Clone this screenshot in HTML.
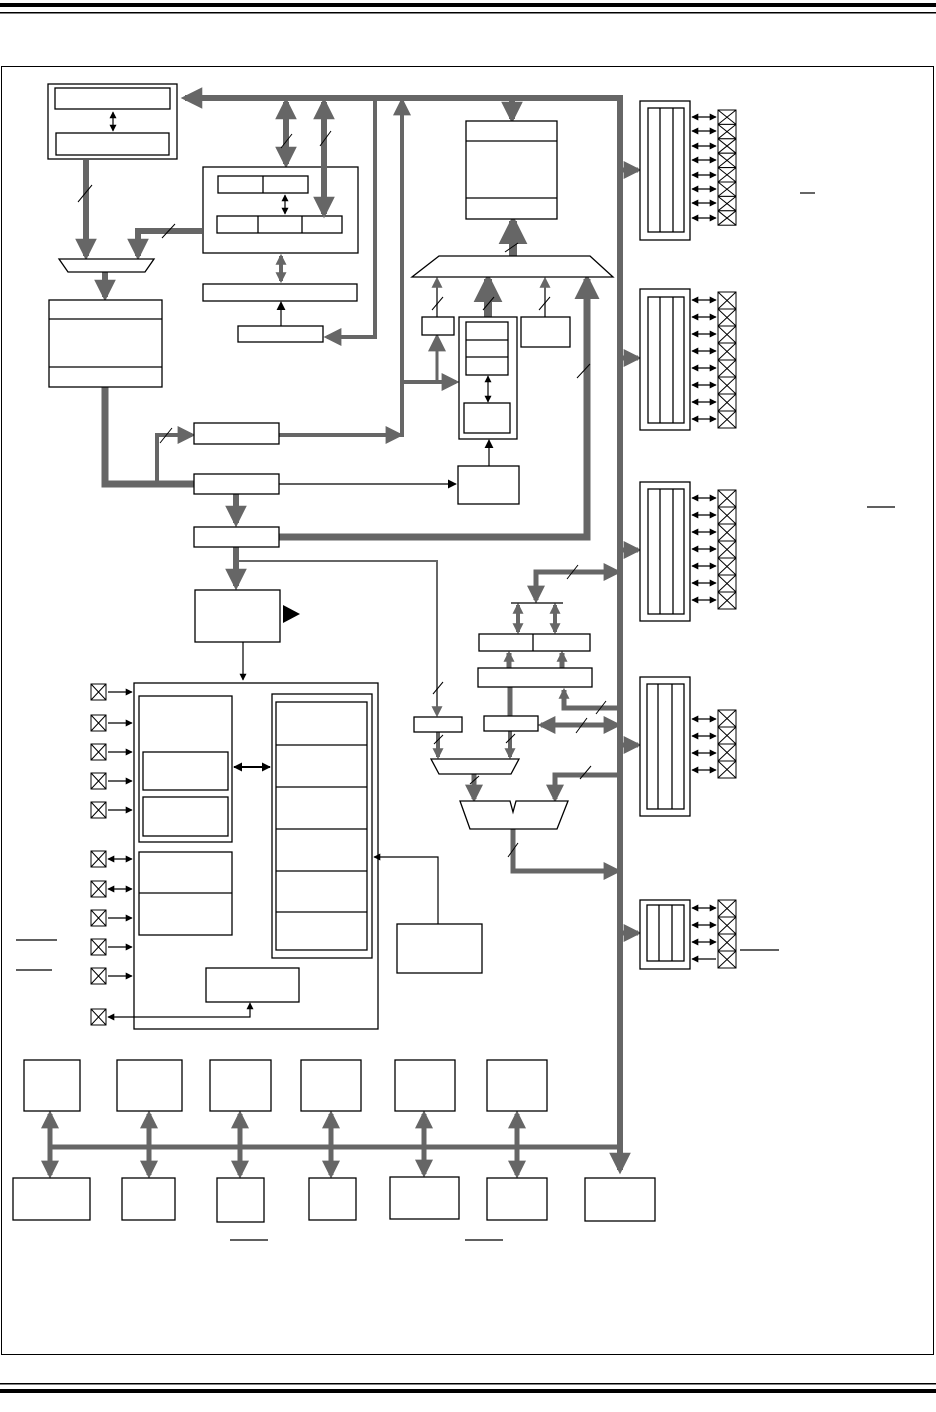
<!DOCTYPE html>
<html><head><meta charset="utf-8"><style>html,body{margin:0;padding:0;background:#fff}svg{display:block}</style></head>
<body>
<svg width="936" height="1412" viewBox="0 0 936 1412" xmlns="http://www.w3.org/2000/svg">
<defs>
<marker id="a" viewBox="0 0 10 10" refX="8" refY="5" markerWidth="3.6" markerHeight="3.6" orient="auto-start-reverse"><path d="M0,0L10,5L0,10z" fill="#666"/></marker>
<marker id="s" viewBox="0 0 10 10" refX="8" refY="5" markerWidth="18" markerHeight="18" markerUnits="userSpaceOnUse" orient="auto-start-reverse"><path d="M0,0L10,5L0,10z" fill="#666"/></marker>
<marker id="t" viewBox="0 0 10 10" refX="8" refY="5" markerWidth="11" markerHeight="11" markerUnits="userSpaceOnUse" orient="auto-start-reverse"><path d="M0,0L10,5L0,10z" fill="#666"/></marker>
<marker id="k" viewBox="0 0 10 10" refX="9" refY="5" markerWidth="9" markerHeight="9" markerUnits="userSpaceOnUse" orient="auto-start-reverse"><path d="M0,0L10,5L0,10z" fill="#000"/></marker>
<marker id="k2" viewBox="0 0 10 10" refX="9" refY="5" markerWidth="7" markerHeight="7" markerUnits="userSpaceOnUse" orient="auto-start-reverse"><path d="M0,0L10,5L0,10z" fill="#000"/></marker>
<g id="xa" fill="#fff" stroke="#000" stroke-width="1"><rect x="0" y="0" width="18" height="14.4"/><path d="M0,0L18,14.4M18,0L0,14.4"/></g>
<g id="xc" fill="#fff" stroke="#000" stroke-width="1"><rect x="0" y="0" width="18" height="17"/><path d="M0,0L18,17M18,0L0,17"/></g>
<g id="xp" fill="#fff" stroke="#000" stroke-width="1"><rect x="0" y="0" width="15" height="16"/><path d="M0,0L15,16M15,0L0,16"/></g>
</defs>
<rect x="0" y="3" width="936" height="4" fill="#000"/>
<rect x="0" y="12" width="936" height="1.5" fill="#000"/>
<rect x="0" y="1383" width="936" height="1.5" fill="#000"/>
<rect x="0" y="1389" width="936" height="4" fill="#000"/>
<rect x="1.5" y="66.5" width="932" height="1288" fill="none" stroke="#000" stroke-width="1"/>

<g fill="none" stroke="#666" stroke-width="6" stroke-linecap="butt">
<polyline points="620,1170 620,98 185,98" marker-end="url(#a)" marker-start="url(#a)"/>
<line x1="512" y1="98" x2="512" y2="119" marker-end="url(#a)"/>
<line x1="286" y1="102" x2="286" y2="164" marker-end="url(#a)" marker-start="url(#a)"/>
<line x1="281" y1="256" x2="281" y2="281" stroke-width="4" marker-end="url(#t)" marker-start="url(#t)"/>
<polyline points="375,98 375,337 327,337" stroke-width="4" marker-end="url(#s)"/>
<line x1="86" y1="160" x2="86" y2="256" marker-end="url(#a)"/>
<polyline points="202,231 138,231 138,256" marker-end="url(#a)"/>
<line x1="105" y1="272" x2="105" y2="297" marker-end="url(#a)"/>
<polyline points="105,387 105,484 194,484" stroke-width="7"/>
<polyline points="157,484 157,435 192,435" stroke-width="4" marker-end="url(#s)"/>
<polyline points="279,435 400,435" stroke-width="4" marker-end="url(#s)"/>
<line x1="402" y1="437" x2="402" y2="101" stroke-width="4" marker-end="url(#s)"/>
<line x1="402" y1="382" x2="456" y2="382" stroke-width="4" marker-end="url(#s)"/>
<line x1="437" y1="382" x2="437" y2="337" stroke-width="3" marker-end="url(#s)"/>
<line x1="437" y1="317" x2="437" y2="279" stroke-width="2" marker-end="url(#t)"/>
<line x1="488" y1="317" x2="488" y2="279" stroke-width="8" marker-end="url(#a)"/>
<line x1="545" y1="317" x2="545" y2="279" stroke-width="2" marker-end="url(#t)"/>
<polyline points="279,537 587,537 587,279" stroke-width="7" marker-end="url(#a)"/>
<line x1="513" y1="256" x2="513" y2="221" stroke-width="8" marker-end="url(#a)"/>
<line x1="236" y1="494" x2="236" y2="523" marker-end="url(#a)"/>
<line x1="236" y1="547" x2="236" y2="586" marker-end="url(#a)"/>
<polyline points="236,561 437,561 437,715" stroke-width="2" marker-end="url(#t)"/>
<line x1="438" y1="732" x2="438" y2="757" stroke-width="4" marker-end="url(#t)"/>
<line x1="510" y1="731" x2="510" y2="757" stroke-width="4" marker-end="url(#t)"/>
<line x1="474" y1="774" x2="474" y2="799" stroke-width="5" marker-end="url(#s)"/>
<polyline points="620,775 555,775 555,799" stroke-width="5" marker-end="url(#s)"/>
<polyline points="513,829 513,871 618,871" stroke-width="5" marker-end="url(#s)"/>
<line x1="510" y1="716" x2="510" y2="670" stroke-width="5" marker-end="url(#t)"/>
<polyline points="620,708 564,708 564,690" stroke-width="5" marker-end="url(#t)"/>
<line x1="541" y1="725" x2="618" y2="725" stroke-width="5" marker-end="url(#s)" marker-start="url(#s)"/>
<line x1="509" y1="668" x2="509" y2="653" stroke-width="5" marker-end="url(#t)"/>
<line x1="562" y1="668" x2="562" y2="653" stroke-width="5" marker-end="url(#t)"/>
<line x1="518" y1="605" x2="518" y2="632" stroke-width="4" marker-end="url(#t)" marker-start="url(#t)"/>
<line x1="555" y1="605" x2="555" y2="632" stroke-width="4" marker-end="url(#t)" marker-start="url(#t)"/>
<polyline points="618,572 536,572 536,600" stroke-width="5" marker-end="url(#s)" marker-start="url(#s)"/>
<line x1="620" y1="170" x2="638" y2="170" stroke-width="5" marker-end="url(#s)"/>
<line x1="620" y1="358" x2="638" y2="358" stroke-width="5" marker-end="url(#s)"/>
<line x1="620" y1="550" x2="638" y2="550" stroke-width="5" marker-end="url(#s)"/>
<line x1="620" y1="745" x2="638" y2="745" stroke-width="5" marker-end="url(#s)"/>
<line x1="620" y1="933" x2="638" y2="933" stroke-width="5" marker-end="url(#s)"/>
<line x1="51" y1="1147" x2="620" y2="1147" stroke-width="5"/>
<g stroke-width="5">
<line x1="50" y1="1114" x2="50" y2="1175" marker-end="url(#s)" marker-start="url(#s)"/>
<line x1="149" y1="1114" x2="149" y2="1175" marker-end="url(#s)" marker-start="url(#s)"/>
<line x1="240" y1="1114" x2="240" y2="1175" marker-end="url(#s)" marker-start="url(#s)"/>
<line x1="331" y1="1114" x2="331" y2="1175" marker-end="url(#s)" marker-start="url(#s)"/>
<line x1="424" y1="1114" x2="424" y2="1174" marker-end="url(#s)" marker-start="url(#s)"/>
<line x1="517" y1="1114" x2="517" y2="1175" marker-end="url(#s)" marker-start="url(#s)"/>
</g>
</g>

<g fill="#fff" stroke="#000" stroke-width="1.3">
<rect x="48" y="84" width="129" height="75"/>
<rect x="55" y="88" width="115" height="21"/>
<rect x="56" y="133" width="113" height="22"/>
<rect x="203" y="167" width="155" height="86"/>
<rect x="218" y="176" width="90" height="17"/><line x1="263" y1="176" x2="263" y2="193"/>
<rect x="217" y="216" width="125" height="17"/><line x1="258" y1="216" x2="258" y2="233"/><line x1="302" y1="216" x2="302" y2="233"/>
<rect x="203" y="284" width="154" height="17"/>
<rect x="238" y="326" width="85" height="16"/>
<path d="M59,259L154,259L145,272L68,272Z"/>
<rect x="49" y="300" width="113" height="87"/><line x1="49" y1="319" x2="162" y2="319"/><line x1="49" y1="367" x2="162" y2="367"/>
<rect x="466" y="121" width="91" height="98"/><line x1="466" y1="141" x2="557" y2="141"/><line x1="466" y1="198" x2="557" y2="198"/>
<path d="M439,256L590,256L613,277L412,277Z"/>
<rect x="422" y="317" width="32" height="18"/>
<rect x="459" y="317" width="58" height="122"/>
<rect x="466" y="322" width="42" height="53"/><line x1="466" y1="340" x2="508" y2="340"/><line x1="466" y1="357" x2="508" y2="357"/>
<rect x="464" y="403" width="46" height="30"/>
<rect x="521" y="317" width="49" height="30"/>
<rect x="194" y="423" width="85" height="21"/>
<rect x="194" y="474" width="85" height="20"/>
<rect x="194" y="527" width="85" height="20"/>
<rect x="458" y="466" width="61" height="38"/>
<rect x="195" y="590" width="85" height="52"/>
<rect x="414" y="717" width="48" height="15"/>
<rect x="484" y="716" width="54" height="15"/>
<path d="M431,759L519,759L511,774L439,774Z"/>
<path d="M460,801L510,801L513,812L516,801L568,801L557,829L470,829Z"/>
<rect x="478" y="668" width="114" height="19"/>
<rect x="479" y="634" width="111" height="17"/><line x1="533" y1="634" x2="533" y2="651"/>
<rect x="134" y="683" width="244" height="346"/>
<rect x="139" y="696" width="93" height="146"/>
<rect x="143" y="752" width="85" height="38"/>
<rect x="143" y="797" width="85" height="39"/>
<rect x="139" y="852" width="93" height="83"/><line x1="139" y1="893" x2="232" y2="893"/>
<rect x="272" y="694" width="100" height="264"/>
<rect x="276" y="702" width="91" height="248"/>
<line x1="276" y1="745" x2="367" y2="745"/><line x1="276" y1="787" x2="367" y2="787"/><line x1="276" y1="829" x2="367" y2="829"/><line x1="276" y1="871" x2="367" y2="871"/><line x1="276" y1="912" x2="367" y2="912"/>
<rect x="206" y="968" width="93" height="34"/>
<rect x="397" y="924" width="85" height="49"/>
<rect x="24" y="1060" width="56" height="51"/><rect x="117" y="1060" width="65" height="51"/><rect x="210" y="1060" width="61" height="51"/><rect x="301" y="1060" width="60" height="51"/><rect x="395" y="1060" width="60" height="51"/><rect x="487" y="1060" width="60" height="51"/>
<rect x="13" y="1178" width="77" height="42"/><rect x="122" y="1178" width="53" height="42"/><rect x="217" y="1178" width="47" height="44"/><rect x="309" y="1178" width="47" height="42"/><rect x="390" y="1177" width="69" height="42"/><rect x="487" y="1178" width="60" height="42"/><rect x="585" y="1178" width="70" height="43"/>
</g>
<line x1="324" y1="102" x2="324" y2="214" stroke="#666" stroke-width="6" marker-end="url(#a)" marker-start="url(#a)"/>
<g stroke="#000" stroke-width="1.2" fill="none">
<line x1="511" y1="603" x2="563" y2="603"/>
<line x1="113" y1="112" x2="113" y2="131" marker-end="url(#k2)" marker-start="url(#k2)"/>
<line x1="285" y1="195" x2="285" y2="214" marker-end="url(#k2)" marker-start="url(#k2)"/>
<line x1="281" y1="326" x2="281" y2="302" marker-end="url(#k)"/>
<line x1="488" y1="376" x2="488" y2="402" marker-end="url(#k2)" marker-start="url(#k2)"/>
<line x1="489" y1="466" x2="489" y2="440" marker-end="url(#k)"/>
<line x1="279" y1="484" x2="456" y2="484" marker-end="url(#k)"/>
<line x1="243" y1="642" x2="243" y2="680" marker-end="url(#k2)"/>
<line x1="234" y1="767" x2="270" y2="767" stroke-width="2" marker-end="url(#k)" marker-start="url(#k)"/>
<polyline points="438,924 438,857 374,857" marker-end="url(#k2)"/>
<polyline points="250,1003 250,1017 108,1017" marker-end="url(#k2)" marker-start="url(#k2)"/>
<line x1="16" y1="940" x2="57" y2="940"/><line x1="16" y1="970" x2="52" y2="970"/>
<line x1="800" y1="193" x2="815" y2="193"/><line x1="867" y1="507" x2="895" y2="507"/><line x1="740" y1="950" x2="779" y2="950"/>
<line x1="230" y1="1240" x2="268" y2="1240"/><line x1="465" y1="1240" x2="503" y2="1240"/>
<line x1="108" y1="692" x2="132" y2="692" marker-end="url(#k2)"/>
<line x1="108" y1="723" x2="132" y2="723" marker-end="url(#k2)"/>
<line x1="108" y1="752" x2="132" y2="752" marker-end="url(#k2)"/>
<line x1="108" y1="781" x2="132" y2="781" marker-end="url(#k2)"/>
<line x1="108" y1="810" x2="132" y2="810" marker-end="url(#k2)"/>
<line x1="108" y1="859" x2="132" y2="859" marker-end="url(#k2)" marker-start="url(#k2)"/>
<line x1="108" y1="889" x2="132" y2="889" marker-end="url(#k2)" marker-start="url(#k2)"/>
<line x1="108" y1="918" x2="132" y2="918" marker-end="url(#k2)"/>
<line x1="108" y1="947" x2="132" y2="947" marker-end="url(#k2)"/>
<line x1="108" y1="976" x2="132" y2="976" marker-end="url(#k2)"/>
<g marker-end="url(#k2)" marker-start="url(#k2)">
<line x1="692" y1="117" x2="716" y2="117"/><line x1="692" y1="131" x2="716" y2="131"/><line x1="692" y1="146" x2="716" y2="146"/><line x1="692" y1="160" x2="716" y2="160"/><line x1="692" y1="175" x2="716" y2="175"/><line x1="692" y1="189" x2="716" y2="189"/><line x1="692" y1="203" x2="716" y2="203"/><line x1="692" y1="218" x2="716" y2="218"/>
<line x1="692" y1="300" x2="716" y2="300"/><line x1="692" y1="317" x2="716" y2="317"/><line x1="692" y1="334" x2="716" y2="334"/><line x1="692" y1="351" x2="716" y2="351"/><line x1="692" y1="368" x2="716" y2="368"/><line x1="692" y1="385" x2="716" y2="385"/><line x1="692" y1="402" x2="716" y2="402"/><line x1="692" y1="419" x2="716" y2="419"/>
<line x1="692" y1="498" x2="716" y2="498"/><line x1="692" y1="515" x2="716" y2="515"/><line x1="692" y1="532" x2="716" y2="532"/><line x1="692" y1="549" x2="716" y2="549"/><line x1="692" y1="566" x2="716" y2="566"/><line x1="692" y1="583" x2="716" y2="583"/><line x1="692" y1="600" x2="716" y2="600"/>
<line x1="692" y1="719" x2="716" y2="719"/><line x1="692" y1="736" x2="716" y2="736"/><line x1="692" y1="753" x2="716" y2="753"/><line x1="692" y1="770" x2="716" y2="770"/>
<line x1="692" y1="908" x2="716" y2="908"/><line x1="692" y1="925" x2="716" y2="925"/><line x1="692" y1="942" x2="716" y2="942"/>
</g>
<line x1="716" y1="959" x2="692" y2="959" marker-end="url(#k2)"/>
</g>
<path d="M283,605L300,614L283,623Z" fill="#000"/>
<g stroke="#000" stroke-width="1">
<line x1="78" y1="202" x2="92" y2="185"/><line x1="162" y1="238" x2="175" y2="224"/>
<line x1="281" y1="148" x2="292" y2="134"/><line x1="320" y1="146" x2="331" y2="131"/>
<line x1="160" y1="443" x2="172" y2="428"/><line x1="432" y1="310" x2="443" y2="297"/>
<line x1="483" y1="310" x2="494" y2="297"/><line x1="539" y1="310" x2="550" y2="297"/>
<line x1="577" y1="378" x2="590" y2="364"/><line x1="505" y1="252" x2="518" y2="243"/>
<line x1="433" y1="694" x2="443" y2="682"/><line x1="567" y1="579" x2="578" y2="565"/>
<line x1="596" y1="714" x2="606" y2="701"/><line x1="576" y1="733" x2="587" y2="718"/>
<line x1="434" y1="744" x2="443" y2="735"/><line x1="506" y1="743" x2="515" y2="734"/>
<line x1="470" y1="784" x2="479" y2="776"/><line x1="580" y1="779" x2="591" y2="766"/>
<line x1="508" y1="857" x2="518" y2="843"/>
</g>
<g fill="#fff" stroke="#000" stroke-width="1.3">
<rect x="640" y="101" width="50" height="139"/><rect x="648" y="108" width="36" height="124"/><line x1="660" y1="108" x2="660" y2="232"/><line x1="673" y1="108" x2="673" y2="232"/>
<rect x="640" y="289" width="50" height="141"/><rect x="648" y="297" width="36" height="126"/><line x1="660" y1="297" x2="660" y2="423"/><line x1="673" y1="297" x2="673" y2="423"/>
<rect x="640" y="482" width="50" height="139"/><rect x="648" y="489" width="36" height="125"/><line x1="660" y1="489" x2="660" y2="614"/><line x1="673" y1="489" x2="673" y2="614"/>
<rect x="640" y="677" width="50" height="139"/><rect x="647" y="684" width="37" height="125"/><line x1="658" y1="684" x2="658" y2="809"/><line x1="672" y1="684" x2="672" y2="809"/>
<rect x="640" y="900" width="50" height="69"/><rect x="647" y="905" width="37" height="56"/><line x1="659" y1="905" x2="659" y2="961"/><line x1="672" y1="905" x2="672" y2="961"/>
</g>
<use href="#xa" x="718" y="110"/><use href="#xa" x="718" y="124.4"/><use href="#xa" x="718" y="138.8"/><use href="#xa" x="718" y="153.2"/><use href="#xa" x="718" y="167.6"/><use href="#xa" x="718" y="182"/><use href="#xa" x="718" y="196.4"/><use href="#xa" x="718" y="210.8"/>
<use href="#xc" x="718" y="292"/><use href="#xc" x="718" y="309"/><use href="#xc" x="718" y="326"/><use href="#xc" x="718" y="343"/><use href="#xc" x="718" y="360"/><use href="#xc" x="718" y="377"/><use href="#xc" x="718" y="394"/><use href="#xc" x="718" y="411"/>
<use href="#xc" x="718" y="490"/><use href="#xc" x="718" y="507"/><use href="#xc" x="718" y="524"/><use href="#xc" x="718" y="541"/><use href="#xc" x="718" y="558"/><use href="#xc" x="718" y="575"/><use href="#xc" x="718" y="592"/>
<use href="#xc" x="718" y="710"/><use href="#xc" x="718" y="727"/><use href="#xc" x="718" y="744"/><use href="#xc" x="718" y="761"/>
<use href="#xc" x="718" y="900"/><use href="#xc" x="718" y="917"/><use href="#xc" x="718" y="934"/><use href="#xc" x="718" y="951"/>
<use href="#xp" x="91" y="684"/><use href="#xp" x="91" y="715"/><use href="#xp" x="91" y="744"/><use href="#xp" x="91" y="773"/><use href="#xp" x="91" y="802"/><use href="#xp" x="91" y="851"/><use href="#xp" x="91" y="881"/><use href="#xp" x="91" y="910"/><use href="#xp" x="91" y="939"/><use href="#xp" x="91" y="968"/><use href="#xp" x="91" y="1009"/>
</svg>
</body></html>
